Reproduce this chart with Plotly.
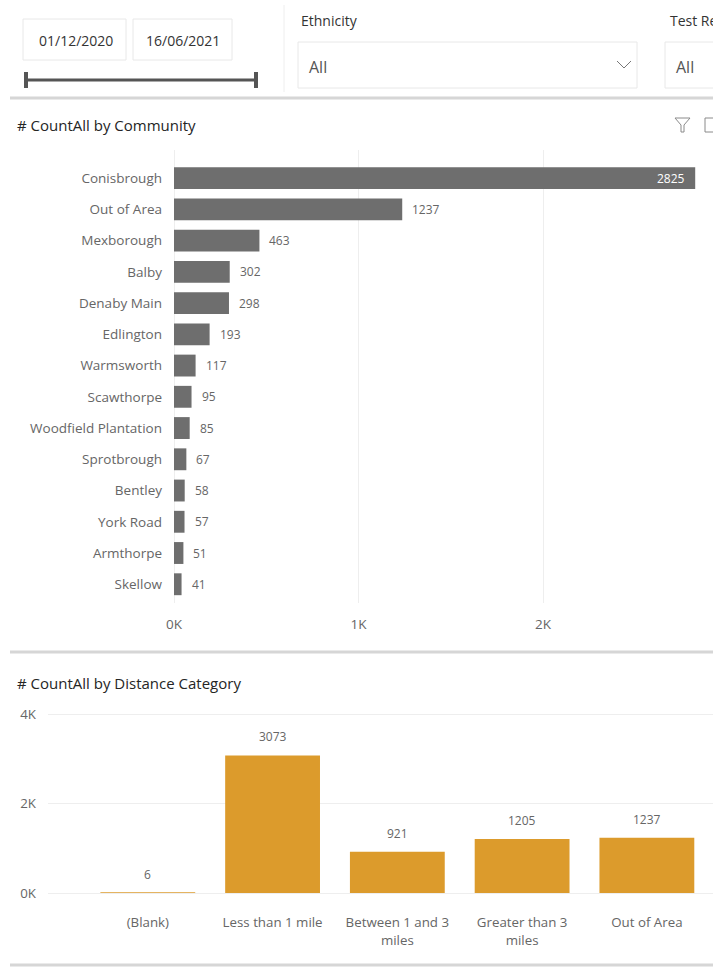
import plotly.graph_objects as go

W, H = 713, 967

# ---- data ----
communities = ["Conisbrough", "Out of Area", "Mexborough", "Balby", "Denaby Main", "Edlington",
               "Warmsworth", "Scawthorpe", "Woodfield Plantation", "Sprotbrough", "Bentley",
               "York Road", "Armthorpe", "Skellow"]
community_counts = [2825, 1237, 463, 302, 298, 193, 117, 95, 85, 67, 58, 57, 51, 41]
community_ticks = [0, 1000, 2000, 3000]
community_ticktext = ["0K", "1K", "2K", "3K"]

distance_cats = ["(Blank)", "Less than 1 mile", "Between 1 and 3<br>miles",
                 "Greater than 3<br>miles", "Out of Area"]
distance_counts = [6, 3073, 921, 1205, 1237]
distance_ticks = [0, 2000, 4000]
distance_ticktext = ["0K", "2K", "4K"]

date_from, date_to = "01/12/2020", "16/06/2021"

GRAY = "#6e6e6e"
ORANGE = "#dc9b2c"
FONT = "Open Sans"


def px(x):
    return x / W


def py(y):
    return 1 - y / H


fig = go.Figure()

fig.add_trace(go.Bar(
    x=community_counts, y=communities, orientation="h",
    marker=dict(color=GRAY, line=dict(width=0)),
    xaxis="x", yaxis="y", hoverinfo="x+y", showlegend=False, width=0.7,
))
fig.add_trace(go.Bar(
    x=distance_cats, y=distance_counts,
    marker=dict(color=ORANGE, line=dict(width=0)),
    xaxis="x2", yaxis="y2", hoverinfo="x+y", showlegend=False, width=0.76,
))

annotations = []
# value labels, community chart
vmax = max(community_counts)
for c, v in zip(communities, community_counts):
    if v == vmax:
        annotations.append(dict(x=v, y=c, xref="x", yref="y", text=str(v), showarrow=False,
                                xanchor="right", xshift=-8,
                                font=dict(family=FONT, size=12, color="white")))
    else:
        annotations.append(dict(x=v, y=c, xref="x", yref="y", text=str(v), showarrow=False,
                                xanchor="left", xshift=8,
                                font=dict(family=FONT, size=12, color="#666666")))
# value labels, distance chart
for c, v in zip(distance_cats, distance_counts):
    annotations.append(dict(x=c, y=v, xref="x2", yref="y2", text=str(v), showarrow=False,
                            yanchor="bottom", yshift=8,
                            font=dict(family=FONT, size=12, color="#666666")))


def txt(x, y, s, size=12, color="#333333", xanchor="left"):
    annotations.append(dict(x=px(x), y=py(y), xref="paper", yref="paper", text=s, showarrow=False,
                            xanchor=xanchor, yanchor="middle",
                            font=dict(family=FONT, size=size, color=color)))


txt(15, 125, "# CountAll by Community", 15, "#252525")
txt(15, 683, "# CountAll by Distance Category", 15, "#252525")
txt(76, 40, date_from, 14, "#333333", "center")
txt(183, 40, date_to, 14, "#333333", "center")
txt(299, 20, "Ethnicity", 14, "#333333")
txt(307, 67, "All", 16, "#555555")
txt(668, 20, "Test Result", 14, "#333333")
txt(674, 67, "All", 16, "#555555")

shapes = []


def rect(x0, y0, x1, y1, line="#e8e8e8", fill=None, w=1):
    shapes.append(dict(type="rect", xref="paper", yref="paper", x0=px(x0), y0=py(y0), x1=px(x1), y1=py(y1),
                       line=dict(color=line, width=w), fillcolor=fill, layer="below"))


def line(x0, y0, x1, y1, color, w):
    shapes.append(dict(type="line", xref="paper", yref="paper", x0=px(x0), y0=py(y0), x1=px(x1), y1=py(y1),
                       line=dict(color=color, width=w)))


rect(23, 19, 126, 60)
rect(133, 19, 232, 60)
rect(298, 42, 637, 88)
rect(665, 42, 740, 88)
# slider
line(26, 80, 256, 80, "#555555", 3)
line(26, 72, 26, 88, "#555555", 4)
line(256, 72, 256, 88, "#555555", 4)
# divider
line(284, 5, 284, 92, "#eeeeee", 1)
# chevron
shapes.append(dict(type="path", xref="paper", yref="paper",
                   path=f"M {px(617)} {py(61)} L {px(624)} {py(68)} L {px(631)} {py(61)}",
                   line=dict(color="#777777", width=1)))
# separators
line(10, 98, 713, 98, "#d6d6d6", 3)
line(10, 652, 713, 652, "#d6d6d6", 3)
line(10, 965, 713, 965, "#d6d6d6", 3)
# filter funnel icon
shapes.append(dict(type="path", xref="paper", yref="paper",
                   path=(f"M {px(675)} {py(118)} L {px(690)} {py(118)} L {px(684)} {py(125)} "
                         f"L {px(684)} {py(132)} L {px(681)} {py(132)} L {px(681)} {py(125)} Z"),
                   line=dict(color="#8a8a8a", width=1)))
rect(705, 118, 717, 132, line="#8a8a8a")

n = len(communities)
ax_font = dict(family=FONT, size=13.5, color="#666666")
ax_font2 = dict(family=FONT, size=13.3, color="#666666")
grid = "#eeeeee"
ymax2 = 4060
fig.update_layout(
    width=W, height=H,
    margin=dict(l=0, r=0, t=0, b=0, pad=0),
    paper_bgcolor="white", plot_bgcolor="white",
    xaxis=dict(domain=[px(174), 1], range=[0, (713 - 174) / 184.5 * 1000],
               tickvals=community_ticks, ticktext=community_ticktext,
               showgrid=True, gridcolor=grid, gridwidth=1,
               zeroline=True, zerolinecolor=grid, zerolinewidth=1,
               showline=False, ticks="", tickfont=ax_font, anchor="y", automargin=False,
               ticklabelstandoff=11, fixedrange=True),
    yaxis=dict(domain=[py(603), py(150)], range=[n - 1 + 0.6, -0.9],
               type="category", categoryorder="array", categoryarray=communities,
               showgrid=False, zeroline=False, showline=False, ticks="",
               tickfont=ax_font, anchor="x", automargin=False, ticklabelstandoff=11,
               fixedrange=True),
    xaxis2=dict(domain=[px(48), 1], range=[-0.8, 4.53], type="category",
                showgrid=False, zeroline=False, showline=False, ticks="",
                tickfont=ax_font2, anchor="y2", automargin=False, ticklabelstandoff=20,
                fixedrange=True),
    yaxis2=dict(domain=[py(893), py(893 - ymax2 * (893 - 714) / 4000)], range=[0, ymax2],
                tickvals=distance_ticks, ticktext=distance_ticktext,
                showgrid=True, gridcolor=grid, gridwidth=1,
                zeroline=True, zerolinecolor=grid, zerolinewidth=1,
                showline=False, ticks="", tickfont=ax_font2, anchor="x2",
                automargin=False, ticklabelstandoff=11, fixedrange=True),
    annotations=annotations,
    shapes=shapes,
)

fig.write_html("out.html")
